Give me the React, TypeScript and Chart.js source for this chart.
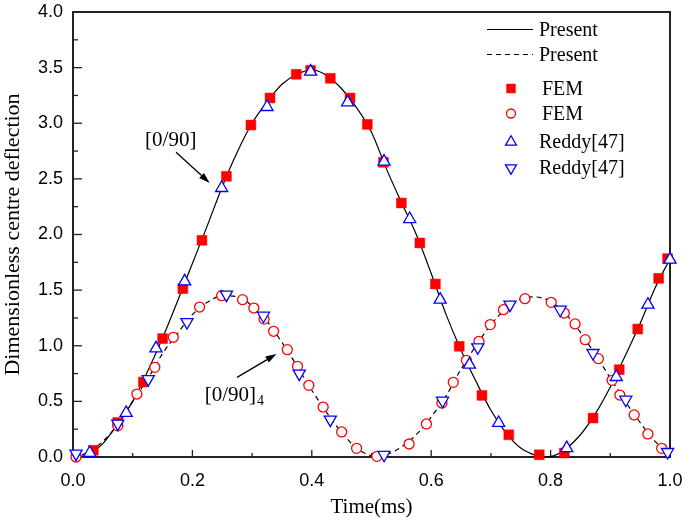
import React, { useEffect, useRef } from "react";
import { Chart, registerables } from "chart.js";
import { drawPoint } from "chart.js/helpers";

Chart.register(...registerables);

// ---- Data ----
const presentSolidX = [0, 0.02, 0.05, 0.075, 0.1, 0.125, 0.15, 0.175, 0.2, 0.225, 0.25, 0.275, 0.3, 0.325, 0.35, 0.375, 0.4, 0.425, 0.45, 0.475, 0.5, 0.525, 0.55, 0.575, 0.6, 0.625, 0.65, 0.675, 0.7, 0.725, 0.75, 0.775, 0.79, 0.805, 0.825, 0.85, 0.875, 0.9, 0.925, 0.95, 0.975, 1.0];
const presentSolidY = [0, 0.01, 0.12, 0.3, 0.5, 0.77, 1.07, 1.4, 1.74, 2.08, 2.43, 2.74, 3.0, 3.19, 3.35, 3.44, 3.48, 3.43, 3.31, 3.14, 2.92, 2.59, 2.29, 2.0, 1.65, 1.28, 0.96, 0.68, 0.42, 0.22, 0.08, 0.015, 0.0, 0.01, 0.07, 0.2, 0.39, 0.63, 0.91, 1.2, 1.52, 1.78];

const presentDashX = [0, 0.025, 0.05, 0.075, 0.1, 0.125, 0.15, 0.175, 0.2, 0.225, 0.25, 0.275, 0.3, 0.325, 0.35, 0.375, 0.4, 0.425, 0.45, 0.475, 0.5, 0.51, 0.525, 0.55, 0.575, 0.6, 0.625, 0.65, 0.675, 0.7, 0.725, 0.75, 0.77, 0.8, 0.825, 0.85, 0.875, 0.9, 0.925, 0.95, 0.975, 1.0];
const presentDashY = [0, 0.04, 0.14, 0.29, 0.5, 0.7, 0.93, 1.11, 1.28, 1.39, 1.45, 1.44, 1.36, 1.22, 1.03, 0.82, 0.6, 0.4, 0.22, 0.08, 0.01, 0.0, 0.02, 0.09, 0.2, 0.36, 0.55, 0.79, 1.0, 1.19, 1.33, 1.42, 1.44, 1.4, 1.29, 1.12, 0.92, 0.71, 0.5, 0.31, 0.14, 0.03];

const femSolidX = [0.034, 0.075, 0.118, 0.15, 0.184, 0.216, 0.257, 0.298, 0.33, 0.374, 0.398, 0.431, 0.464, 0.493, 0.52, 0.55, 0.581, 0.607, 0.647, 0.685, 0.73, 0.781, 0.823, 0.871, 0.915, 0.946, 0.981, 0.996];
const femSolidY = [0.06, 0.31, 0.674, 1.064, 1.513, 1.948, 2.523, 2.984, 3.227, 3.44, 3.476, 3.404, 3.227, 2.99, 2.649, 2.283, 1.924, 1.555, 0.995, 0.554, 0.2, 0.02, 0.036, 0.35, 0.785, 1.15, 1.606, 1.783];

const femOpenX = [0.005, 0.075, 0.107, 0.137, 0.168, 0.212, 0.249, 0.284, 0.303, 0.32, 0.336, 0.359, 0.376, 0.395, 0.419, 0.45, 0.475, 0.509, 0.563, 0.592, 0.618, 0.637, 0.659, 0.68, 0.699, 0.721, 0.757, 0.801, 0.823, 0.841, 0.858, 0.88, 0.903, 0.916, 0.94, 0.963, 0.986];
const femOpenY = [0.0, 0.28, 0.566, 0.806, 1.076, 1.348, 1.45, 1.414, 1.339, 1.24, 1.13, 0.965, 0.815, 0.644, 0.449, 0.225, 0.078, 0.006, 0.117, 0.297, 0.485, 0.671, 0.869, 1.04, 1.19, 1.324, 1.423, 1.39, 1.294, 1.196, 1.055, 0.884, 0.689, 0.557, 0.378, 0.207, 0.078];

const reddyUpX = [0.028, 0.089, 0.139, 0.187, 0.249, 0.325, 0.398, 0.46, 0.521, 0.564, 0.615, 0.664, 0.713, 0.827, 0.91, 0.963, 1.0];
const reddyUpY = [0.036, 0.396, 0.977, 1.579, 2.418, 3.146, 3.464, 3.188, 2.655, 2.139, 1.414, 0.83, 0.306, 0.08, 0.719, 1.369, 1.774];

const reddyDownX = [0.005, 0.075, 0.126, 0.191, 0.257, 0.319, 0.379, 0.431, 0.521, 0.619, 0.678, 0.732, 0.816, 0.871, 0.926, 0.996];
const reddyDownY = [0.03, 0.3, 0.7, 1.213, 1.459, 1.27, 0.749, 0.336, 0.02, 0.506, 0.986, 1.369, 1.324, 0.935, 0.515, 0.045];

const xTickValues = [0, 0.2, 0.4, 0.6, 0.8, 1.0];
const yTickValues = [0, 0.5, 1.0, 1.5, 2.0, 2.5, 3.0, 3.5, 4.0];

const seriesLabels = ["Present", "Present", "FEM", "FEM", "Reddy[47]", "Reddy[47]"];

const pts = (xs: number[], ys: number[]) => xs.map((x, i) => ({ x, y: ys[i] }));

const SERIF = '"Liberation Serif", "Times New Roman", serif';
const SANS = '"Liberation Sans", Arial, sans-serif';

function arrow(ctx: CanvasRenderingContext2D, x1: number, y1: number, x2: number, y2: number) {
  const ang = Math.atan2(y2 - y1, x2 - x1);
  const hl = 11, hw = 3.5;
  const bx = x2 - Math.cos(ang) * hl, by = y2 - Math.sin(ang) * hl;
  ctx.beginPath();
  ctx.moveTo(x1, y1);
  ctx.lineTo(bx, by);
  ctx.lineWidth = 1.3;
  ctx.strokeStyle = "#000";
  ctx.stroke();
  ctx.beginPath();
  ctx.moveTo(x2, y2);
  ctx.lineTo(bx - Math.sin(ang) * hw, by + Math.cos(ang) * hw);
  ctx.lineTo(bx + Math.sin(ang) * hw, by - Math.cos(ang) * hw);
  ctx.closePath();
  ctx.fillStyle = "#000";
  ctx.fill();
}

const framePlugin = {
  id: "frameTicks",
  beforeDatasetsDraw(chart: any) {
    const { ctx, chartArea: a, scales } = chart;
    ctx.save();
    ctx.strokeStyle = "#222";
    ctx.lineWidth = 1.3;
    for (let i = 0; i <= 10; i++) {
      const px = scales.x.getPixelForValue(i / 10);
      const len = i % 2 === 0 ? 7 : 4;
      ctx.beginPath();
      ctx.moveTo(px, a.bottom);
      ctx.lineTo(px, a.bottom - len);
      ctx.stroke();
    }
    for (let i = 0; i <= 16; i++) {
      const py = scales.y.getPixelForValue(i * 0.25);
      const len = i % 2 === 0 ? 9 : 5;
      ctx.beginPath();
      ctx.moveTo(a.left, py);
      ctx.lineTo(a.left + len, py);
      ctx.stroke();
    }
    ctx.lineWidth = 2;
    ctx.strokeRect(a.left, a.top, a.right - a.left, a.bottom - a.top);
    ctx.restore();
  },
  afterDraw(chart: any) {
    const { ctx, scales } = chart;
    const X = (v: number) => scales.x.getPixelForValue(v);
    const Y = (v: number) => scales.y.getPixelForValue(v);
    ctx.save();
    // Legend
    const ds = chart.data.datasets;
    const rows = [29.5, 54.5, 88.5, 113.5, 142, 168];
    ctx.font = `20px ${SERIF}`;
    ctx.textBaseline = "middle";
    ctx.textAlign = "left";
    ds.forEach((d: any, i: number) => {
      const y = rows[i];
      if (d.showLine) {
        ctx.beginPath();
        ctx.setLineDash(d.borderDash || []);
        ctx.strokeStyle = d.borderColor;
        ctx.lineWidth = 1.2;
        ctx.moveTo(487, y);
        ctx.lineTo(533, y);
        ctx.stroke();
        ctx.setLineDash([]);
        ctx.fillStyle = "#000";
        ctx.fillText(d.label, 539, y + 1);
      } else {
        ctx.fillStyle = d.pointBackgroundColor;
        ctx.strokeStyle = d.pointBorderColor;
        ctx.lineWidth = d.pointBorderWidth;
        drawPoint(ctx, { pointStyle: d.pointStyle, radius: d.pointRadius * 0.9, rotation: d.pointRotation || 0, borderWidth: d.pointBorderWidth }, 511, y);
        ctx.fillStyle = "#000";
        ctx.fillText(d.label, d.label === "FEM" ? 542 : 539, y + 1);
      }
    });
    // Annotations
    ctx.fillStyle = "#000";
    ctx.font = `21px ${SERIF}`;
    ctx.textAlign = "center";
    ctx.textBaseline = "alphabetic";
    ctx.fillText("[0/90]", X(0.1637), Y(2.8));
    arrow(ctx, X(0.1726), Y(2.739), X(0.229), Y(2.464));
    ctx.textAlign = "left";
    ctx.fillText("[0/90]", X(0.2207), Y(0.5));
    const w = ctx.measureText("[0/90]").width;
    ctx.font = `14px ${SERIF}`;
    ctx.fillText("4", X(0.2207) + w + 1, Y(0.5) + 4);
    arrow(ctx, X(0.2748), Y(0.716), X(0.3409), Y(0.926));
    ctx.restore();
  },
};

export default function App() {
  const ref = useRef<HTMLCanvasElement | null>(null);
  useEffect(() => {
    if (!ref.current) return;
    const chart = new Chart(ref.current, {
      type: "scatter",
      data: {
        datasets: [
          {
            label: seriesLabels[0],
            data: pts(presentSolidX, presentSolidY),
            showLine: true,
            borderColor: "#000",
            borderWidth: 1.2,
            pointRadius: 0,
            cubicInterpolationMode: "monotone",
            order: 10,
            clip: false,
          },
          {
            label: seriesLabels[1],
            data: pts(presentDashX, presentDashY),
            showLine: true,
            borderColor: "#000",
            borderWidth: 1.2,
            borderDash: [5, 4],
            pointRadius: 0,
            cubicInterpolationMode: "monotone",
            order: 9,
            clip: false,
          },
          {
            label: seriesLabels[2],
            data: pts(femSolidX, femSolidY),
            showLine: false,
            pointStyle: "rect",
            pointRadius: 7,
            pointBackgroundColor: "#ff0000",
            pointBorderColor: "#ff0000",
            pointBorderWidth: 0.5,
            order: 4,
            clip: false,
          },
          {
            label: seriesLabels[3],
            data: pts(femOpenX, femOpenY),
            showLine: false,
            pointStyle: "circle",
            pointRadius: 5,
            pointBackgroundColor: "#ffffff",
            pointBorderColor: "#ff0000",
            pointBorderWidth: 1.3,
            order: 3,
            clip: false,
          },
          {
            label: seriesLabels[4],
            data: pts(reddyUpX, reddyUpY),
            showLine: false,
            pointStyle: "triangle",
            pointRadius: 7,
            pointRotation: 0,
            pointBackgroundColor: "#ffffff",
            pointBorderColor: "#0000ff",
            pointBorderWidth: 1.3,
            order: 1,
            clip: false,
          },
          {
            label: seriesLabels[5],
            data: pts(reddyDownX, reddyDownY),
            showLine: false,
            pointStyle: "triangle",
            pointRadius: 7,
            pointRotation: 180,
            pointBackgroundColor: "#ffffff",
            pointBorderColor: "#0000ff",
            pointBorderWidth: 1.3,
            order: 2,
            clip: false,
          },
        ] as any,
      },
      options: {
        animation: false,
        responsive: false,
        maintainAspectRatio: false,
        layout: { padding: { top: 12, right: 15, left: 0, bottom: 0 } },
        plugins: { legend: { display: false }, tooltip: { enabled: false } },
        scales: {
          x: {
            type: "linear",
            min: 0,
            max: 1,
            afterBuildTicks: (s: any) => { s.ticks = xTickValues.map((v) => ({ value: v })); },
            afterFit: (s: any) => { s.height = 63; s.paddingLeft = 0; s.paddingRight = 0; },
            ticks: {
              callback: (v: any) => Number(v).toFixed(1),
              font: { family: SANS, size: 18 },
              color: "#000",
              padding: 13,
              maxRotation: 0,
              autoSkip: false,
            },
            grid: { display: false, drawTicks: false },
            border: { display: false },
            title: {
              display: true,
              text: "Time(ms)",
              font: { family: SERIF, size: 21 },
              color: "#000",
              padding: { top: 0, bottom: 0 },
            },
          },
          y: {
            type: "linear",
            min: 0,
            max: 4,
            afterBuildTicks: (s: any) => { s.ticks = yTickValues.map((v) => ({ value: v })); },
            afterFit: (s: any) => { s.width = 73; s.paddingTop = 0; s.paddingBottom = 0; },
            ticks: {
              callback: (v: any) => Number(v).toFixed(1),
              font: { family: SANS, size: 18 },
              color: "#000",
              padding: 10,
              autoSkip: false,
            },
            grid: { display: false, drawTicks: false },
            border: { display: false },
            title: {
              display: true,
              text: "Dimensionless centre deflection",
              font: { family: SERIF, size: 22 },
              color: "#000",
              padding: { top: 0, bottom: 0 },
            },
          },
        },
      } as any,
      plugins: [framePlugin],
    });
    return () => chart.destroy();
  }, []);
  return (
    <div style={{ position: "fixed", left: 0, top: 0, width: 685, height: 520, background: "#fff" }}>
      <canvas ref={ref} width={685} height={520} style={{ display: "block" }} />
    </div>
  );
}
